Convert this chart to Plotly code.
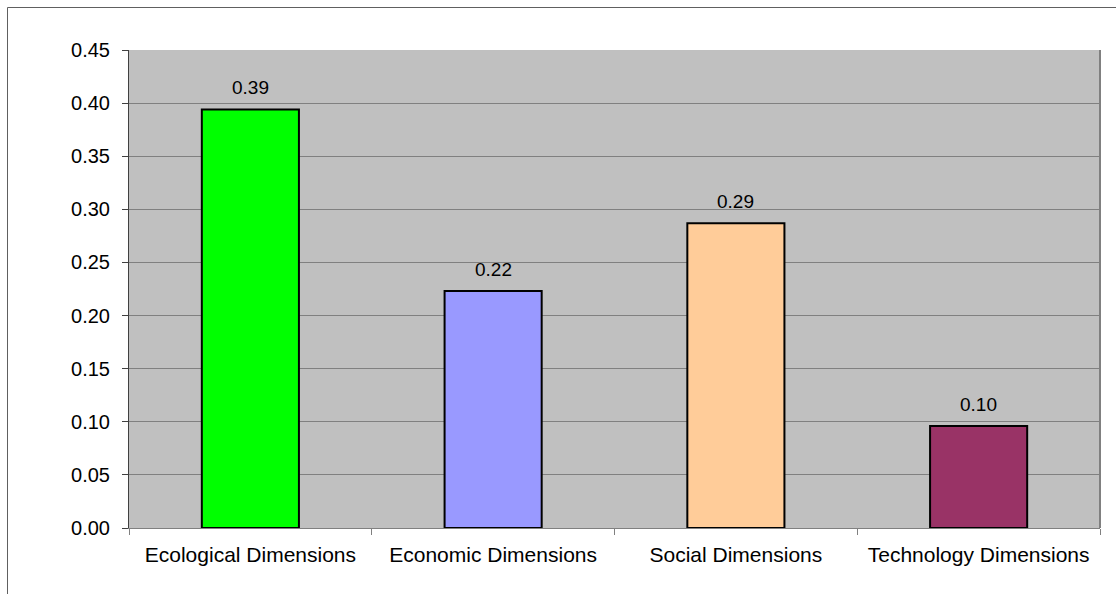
import plotly.graph_objects as go

categories = ["Ecological Dimensions", "Economic Dimensions", "Social Dimensions", "Technology Dimensions"]
values = [0.394, 0.223, 0.287, 0.096]
labels = ["0.39", "0.22", "0.29", "0.10"]
colors = ["#00FF00", "#9999FF", "#FFCC99", "#993366"]
yticks = [0.00, 0.05, 0.10, 0.15, 0.20, 0.25, 0.30, 0.35, 0.40, 0.45]

FONT = "Liberation Sans, Arial, sans-serif"

fig = go.Figure(go.Bar(
    x=categories, y=values,
    marker=dict(color=colors, line=dict(color="black", width=2)),
    width=0.4,
))

for c, v, t in zip(categories, values, labels):
    fig.add_annotation(x=c, y=v, text=t, showarrow=False, yanchor="bottom",
                       yshift=9, font=dict(size=19, color="black", family=FONT))

L, R, T, B = 129, 16, 50, 66
W, H = 1116, 594
pw, ph = W - L - R, H - T - B

def px(x):
    return (x - L) / pw

def py(y):
    return (H - B - y) / ph

fig.update_layout(
    width=W, height=H,
    margin=dict(l=L, r=R, t=T, b=B),
    paper_bgcolor="white", plot_bgcolor="#C0C0C0",
    font=dict(family=FONT, size=20, color="black"),
    showlegend=False,
    xaxis=dict(
        type="category", tickson="boundaries", ticks="outside", ticklen=6,
        tickcolor="#808080", showgrid=False, showline=True, linecolor="#808080",
        linewidth=1, tickfont=dict(size=21), ticklabelstandoff=8,
    ),
    yaxis=dict(
        range=[0, 0.45], tickvals=yticks, tickformat=".2f", ticks="outside",
        ticklen=6, tickcolor="#404040", showgrid=True, gridcolor="#808080",
        gridwidth=1, showline=True, linecolor="#404040", linewidth=1,
        tickfont=dict(size=20), zeroline=False, ticklabelstandoff=8,
    ),
    shapes=[
        dict(type="line", xref="paper", yref="paper", x0=1, x1=1, y0=0, y1=1,
             line=dict(color="#808080", width=2)),
        dict(type="line", xref="paper", yref="paper", x0=px(7.5), x1=px(7.5),
             y0=py(7.5), y1=py(600), line=dict(color="#606060", width=1)),
        dict(type="line", xref="paper", yref="paper", x0=px(7.5), x1=px(1120),
             y0=py(7.5), y1=py(7.5), line=dict(color="#606060", width=1)),
    ],
)

fig.write_html("out.html")
